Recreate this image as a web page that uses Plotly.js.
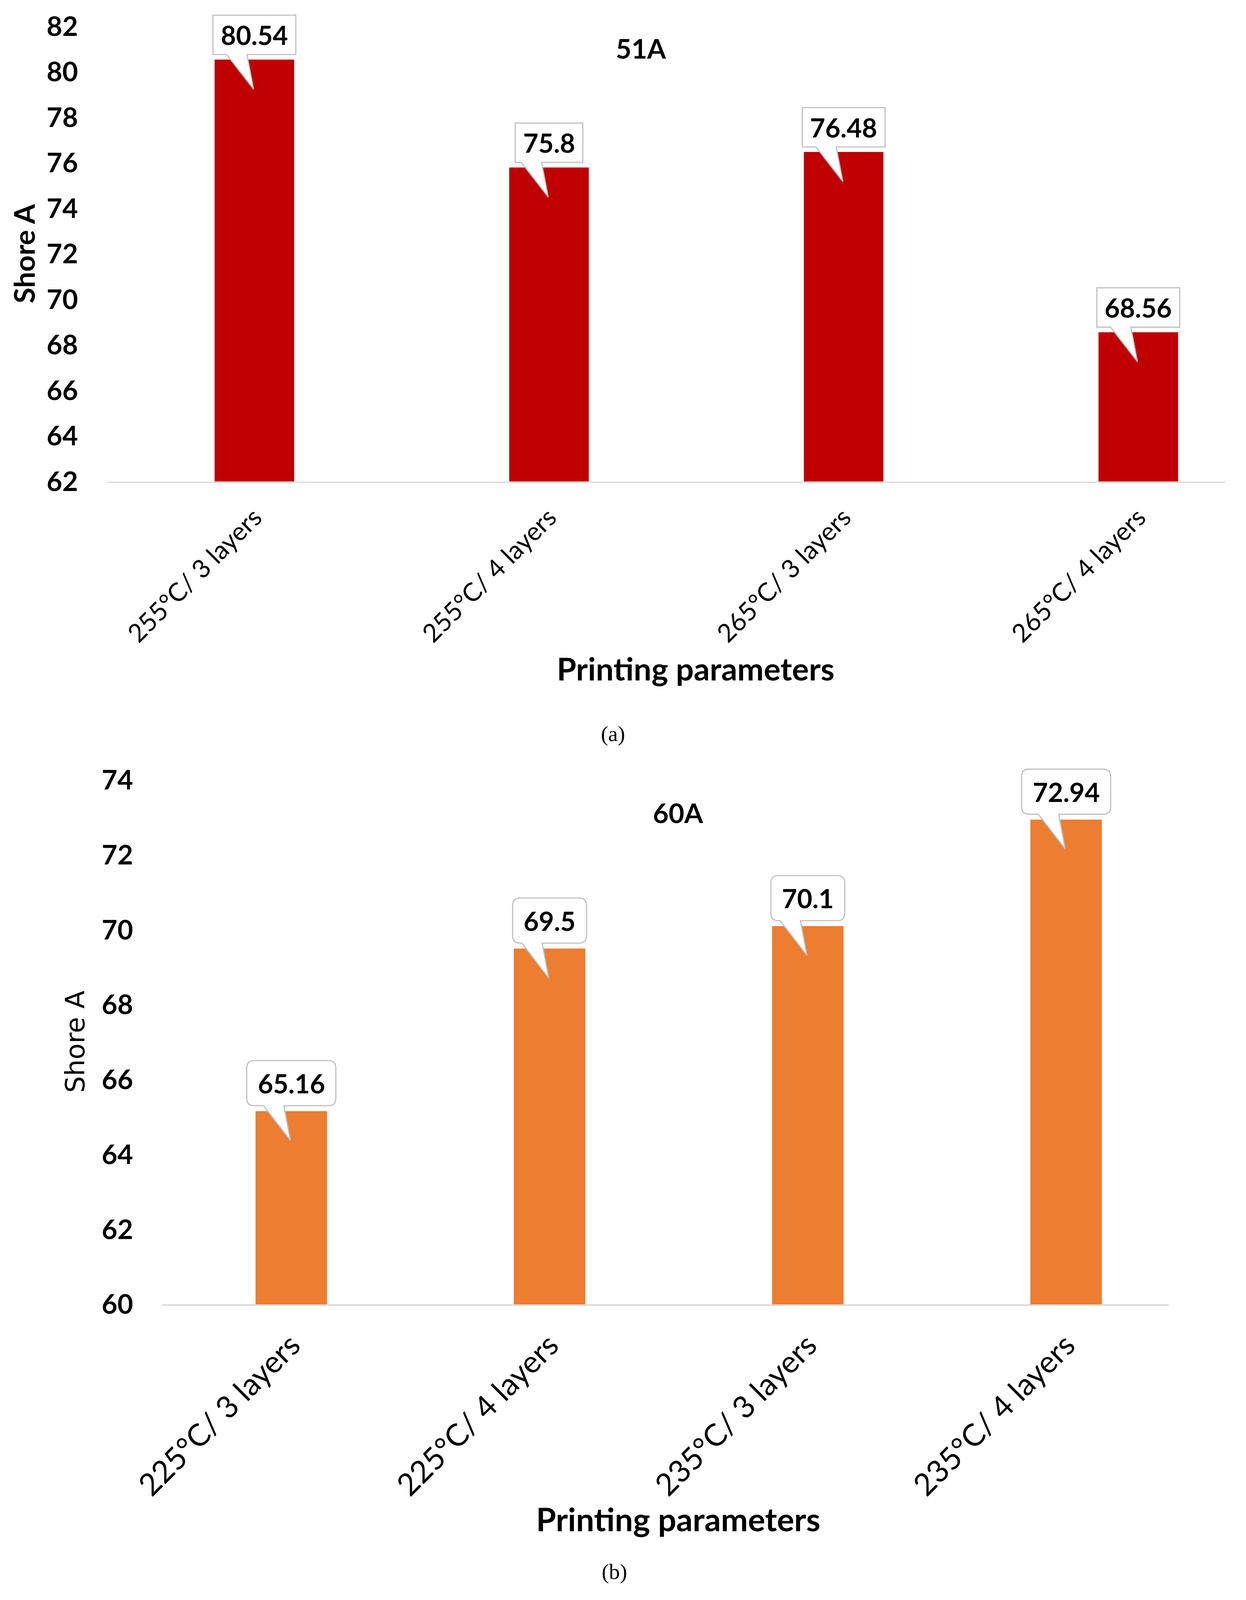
<!DOCTYPE html>
<html>
<head>
<meta charset="utf-8">
<script src="https://cdn.plot.ly/plotly-3.0.1.min.js"></script>
<style>
  html, body { margin: 0; padding: 0; background: #fff; overflow: hidden; }
  #chart { width: 100vw; height: 100vh; }
</style>
</head>
<body>
<div id="chart"></div>
<script>
// 数据 (a) 51A
const categoriesA = ['255°C/ 3 layers', '255°C/ 4 layers', '265°C/ 3 layers', '265°C/ 4 layers'];
const valuesA = [80.54, 75.8, 76.48, 68.56];
// 数据 (b) 60A
const categoriesB = ['225°C/ 3 layers', '225°C/ 4 layers', '235°C/ 3 layers', '235°C/ 4 layers'];
const valuesB = [65.16, 69.5, 70.1, 72.94];

// 参考尺寸 3189x4433, 按实际窗口缩放
const REF_W = 3189, REF_H = 4433;
const W = window.innerWidth || REF_W;
const H = window.innerHeight || REF_H;
const sx = W / REF_W, sy = H / REF_H;
const kf = Math.sqrt(sx * sy); // 字号缩放
const FONT = 'Lato, "Open Sans", sans-serif';

// 参考像素 -> paper 坐标
const px = x => x / REF_W;
const py = y => 1 - y / REF_H;
const f = v => v * kf;

// 测量文字宽度
const ctx = document.createElement('canvas').getContext('2d');
function textWidth(txt, size) {
    ctx.font = `bold ${size}px Lato`;
    return ctx.measureText(txt).width;
}

/**
 * 数据标签气泡 (方框 + 三角指针), 像素单位, 锚定在柱顶
 */
function calloutPath(w, h, gap, r) {
    const l = -w / 2, rt = w / 2, b = gap, t = gap + h;
    return [
        `M ${l + r} ${b}`, `L ${-71 * sx} ${b}`, `L ${-2 * sx} ${-82 * sy}`, `L ${-19 * sx} ${b}`,
        `L ${rt - r} ${b}`, `Q ${rt} ${b} ${rt} ${b + r}`,
        `L ${rt} ${t - r}`, `Q ${rt} ${t} ${rt - r} ${t}`,
        `L ${l + r} ${t}`, `Q ${l} ${t} ${l} ${t - r}`,
        `L ${l} ${b + r}`, `Q ${l} ${b} ${l + r} ${b}`, 'Z'
    ].join(' ');
}

function addCallouts(cats, vals, xref, yref, opts, shapes, annotations) {
    const size = f(opts.size), h = opts.h * sy, gap = opts.gap * sy, r = f(opts.r);
    cats.forEach((c, i) => {
        const label = String(vals[i]);
        const w = textWidth(label, size) + 2 * opts.pad * sx;
        shapes.push({
            type: 'path', xref: xref, yref: yref,
            xsizemode: 'pixel', ysizemode: 'pixel',
            xanchor: c, yanchor: vals[i],
            path: calloutPath(w, h, gap, r),
            fillcolor: '#ffffff',
            line: { color: '#bfbfbf', width: f(3) },
            layer: 'above'
        });
        annotations.push({
            xref: xref, yref: yref, x: c, y: vals[i],
            yshift: gap + h / 2,
            text: `<b>${label}</b>`, showarrow: false,
            xanchor: 'center', yanchor: 'middle',
            font: { family: FONT, size: size, color: '#000' }
        });
    });
}

const data = [
    {
        type: 'bar', x: categoriesA, y: valuesA, xaxis: 'x', yaxis: 'y',
        width: 0.27, marker: { color: '#C00000' }, hoverinfo: 'x+y'
    },
    {
        type: 'bar', x: categoriesB, y: valuesB, xaxis: 'x2', yaxis: 'y2',
        width: 0.277, marker: { color: '#ED7D31' }, hoverinfo: 'x+y'
    }
];

const shapes = [];
const annotations = [];
addCallouts(categoriesA, valuesA, 'x', 'y', { size: 70, pad: 20, h: 109, gap: 14, r: 0 }, shapes, annotations);
addCallouts(categoriesB, valuesB, 'x2', 'y2', { size: 70, pad: 28, h: 125, gap: 15, r: 20 }, shapes, annotations);

// 标题与轴标题
const textAnn = (x, y, text, size, family, angle) => ({
    xref: 'paper', yref: 'paper', x: px(x), y: py(y), text: text,
    showarrow: false, xanchor: 'center', yanchor: 'middle', textangle: angle || 0,
    font: { family: family, size: f(size), color: '#000' }
});
annotations.push(
    textAnn(1640, 134, '<b>51A</b>', 72, FONT),
    textAnn(61, 703, '<b>Shore A</b>', 76, FONT, -90),
    textAnn(1780, 1851, '<b>Printing parameters</b>', 84, FONT),
    textAnn(1569, 2032, '(a)', 58, '"Liberation Serif", "Times New Roman", serif'),
    textAnn(1736, 2252, '<b>60A</b>', 72, FONT),
    textAnn(193, 2887, 'Shore A', 70, '"DejaVu Sans", sans-serif', -90),
    textAnn(1736, 4208, '<b>Printing parameters</b>', 86, FONT),
    textAnn(1572, 4354, '(b)', 58, '"Liberation Serif", "Times New Roman", serif')
);

// 绘图区顶部略高于最后一个刻度, 以免标签气泡被裁剪
const unitA = (1334 - 73) / 20, unitB = (3614 - 2161) / 14;
const topA = 82.8, topB = 74.6;

// 透明刻度线用于控制刻度标签与轴的距离
const xCommon = {
    type: 'category', showgrid: false, zeroline: false,
    showline: true, linecolor: '#d9d9d9', linewidth: f(4),
    ticks: 'outside', tickcolor: 'rgba(0,0,0,0)', tickangle: -45, fixedrange: true
};
const yCommon = {
    showgrid: false, zeroline: false, showline: false,
    ticks: 'outside', tickcolor: 'rgba(0,0,0,0)', dtick: 2, fixedrange: true
};

const layout = {
    width: W, height: H,
    margin: { l: 0, r: 0, t: 0, b: 0, pad: 0 },
    paper_bgcolor: '#ffffff', plot_bgcolor: '#ffffff',
    showlegend: false,
    font: { family: FONT, color: '#000' },
    xaxis: Object.assign({}, xCommon, {
        domain: [px(274), px(3135)], range: [-0.5, 3.294], anchor: 'y',
        tickfont: { family: FONT, size: f(68), color: '#000' }, ticklen: f(25)
    }),
    yaxis: Object.assign({}, yCommon, {
        domain: [py(1334), py(73 - (topA - 82) * unitA)], range: [62, topA], anchor: 'x',
        tickfont: { family: FONT, size: f(72), color: '#000', weight: 'bold' }, ticklen: f(62)
    }),
    xaxis2: Object.assign({}, xCommon, {
        domain: [px(415), px(2991)], range: [-0.5, 3.397], anchor: 'y2',
        tickfont: { family: FONT, size: f(82), color: '#000' }, ticklen: f(24)
    }),
    yaxis2: Object.assign({}, yCommon, {
        domain: [py(3614), py(2161 - (topB - 74) * unitB)], range: [60, topB], anchor: 'x2',
        tickfont: { family: FONT, size: f(72), color: '#000', weight: 'bold' }, ticklen: f(62)
    }),
    shapes: shapes,
    annotations: annotations
};

Plotly.newPlot('chart', data, layout, { displayModeBar: false, staticPlot: true });
</script>
</body>
</html>
